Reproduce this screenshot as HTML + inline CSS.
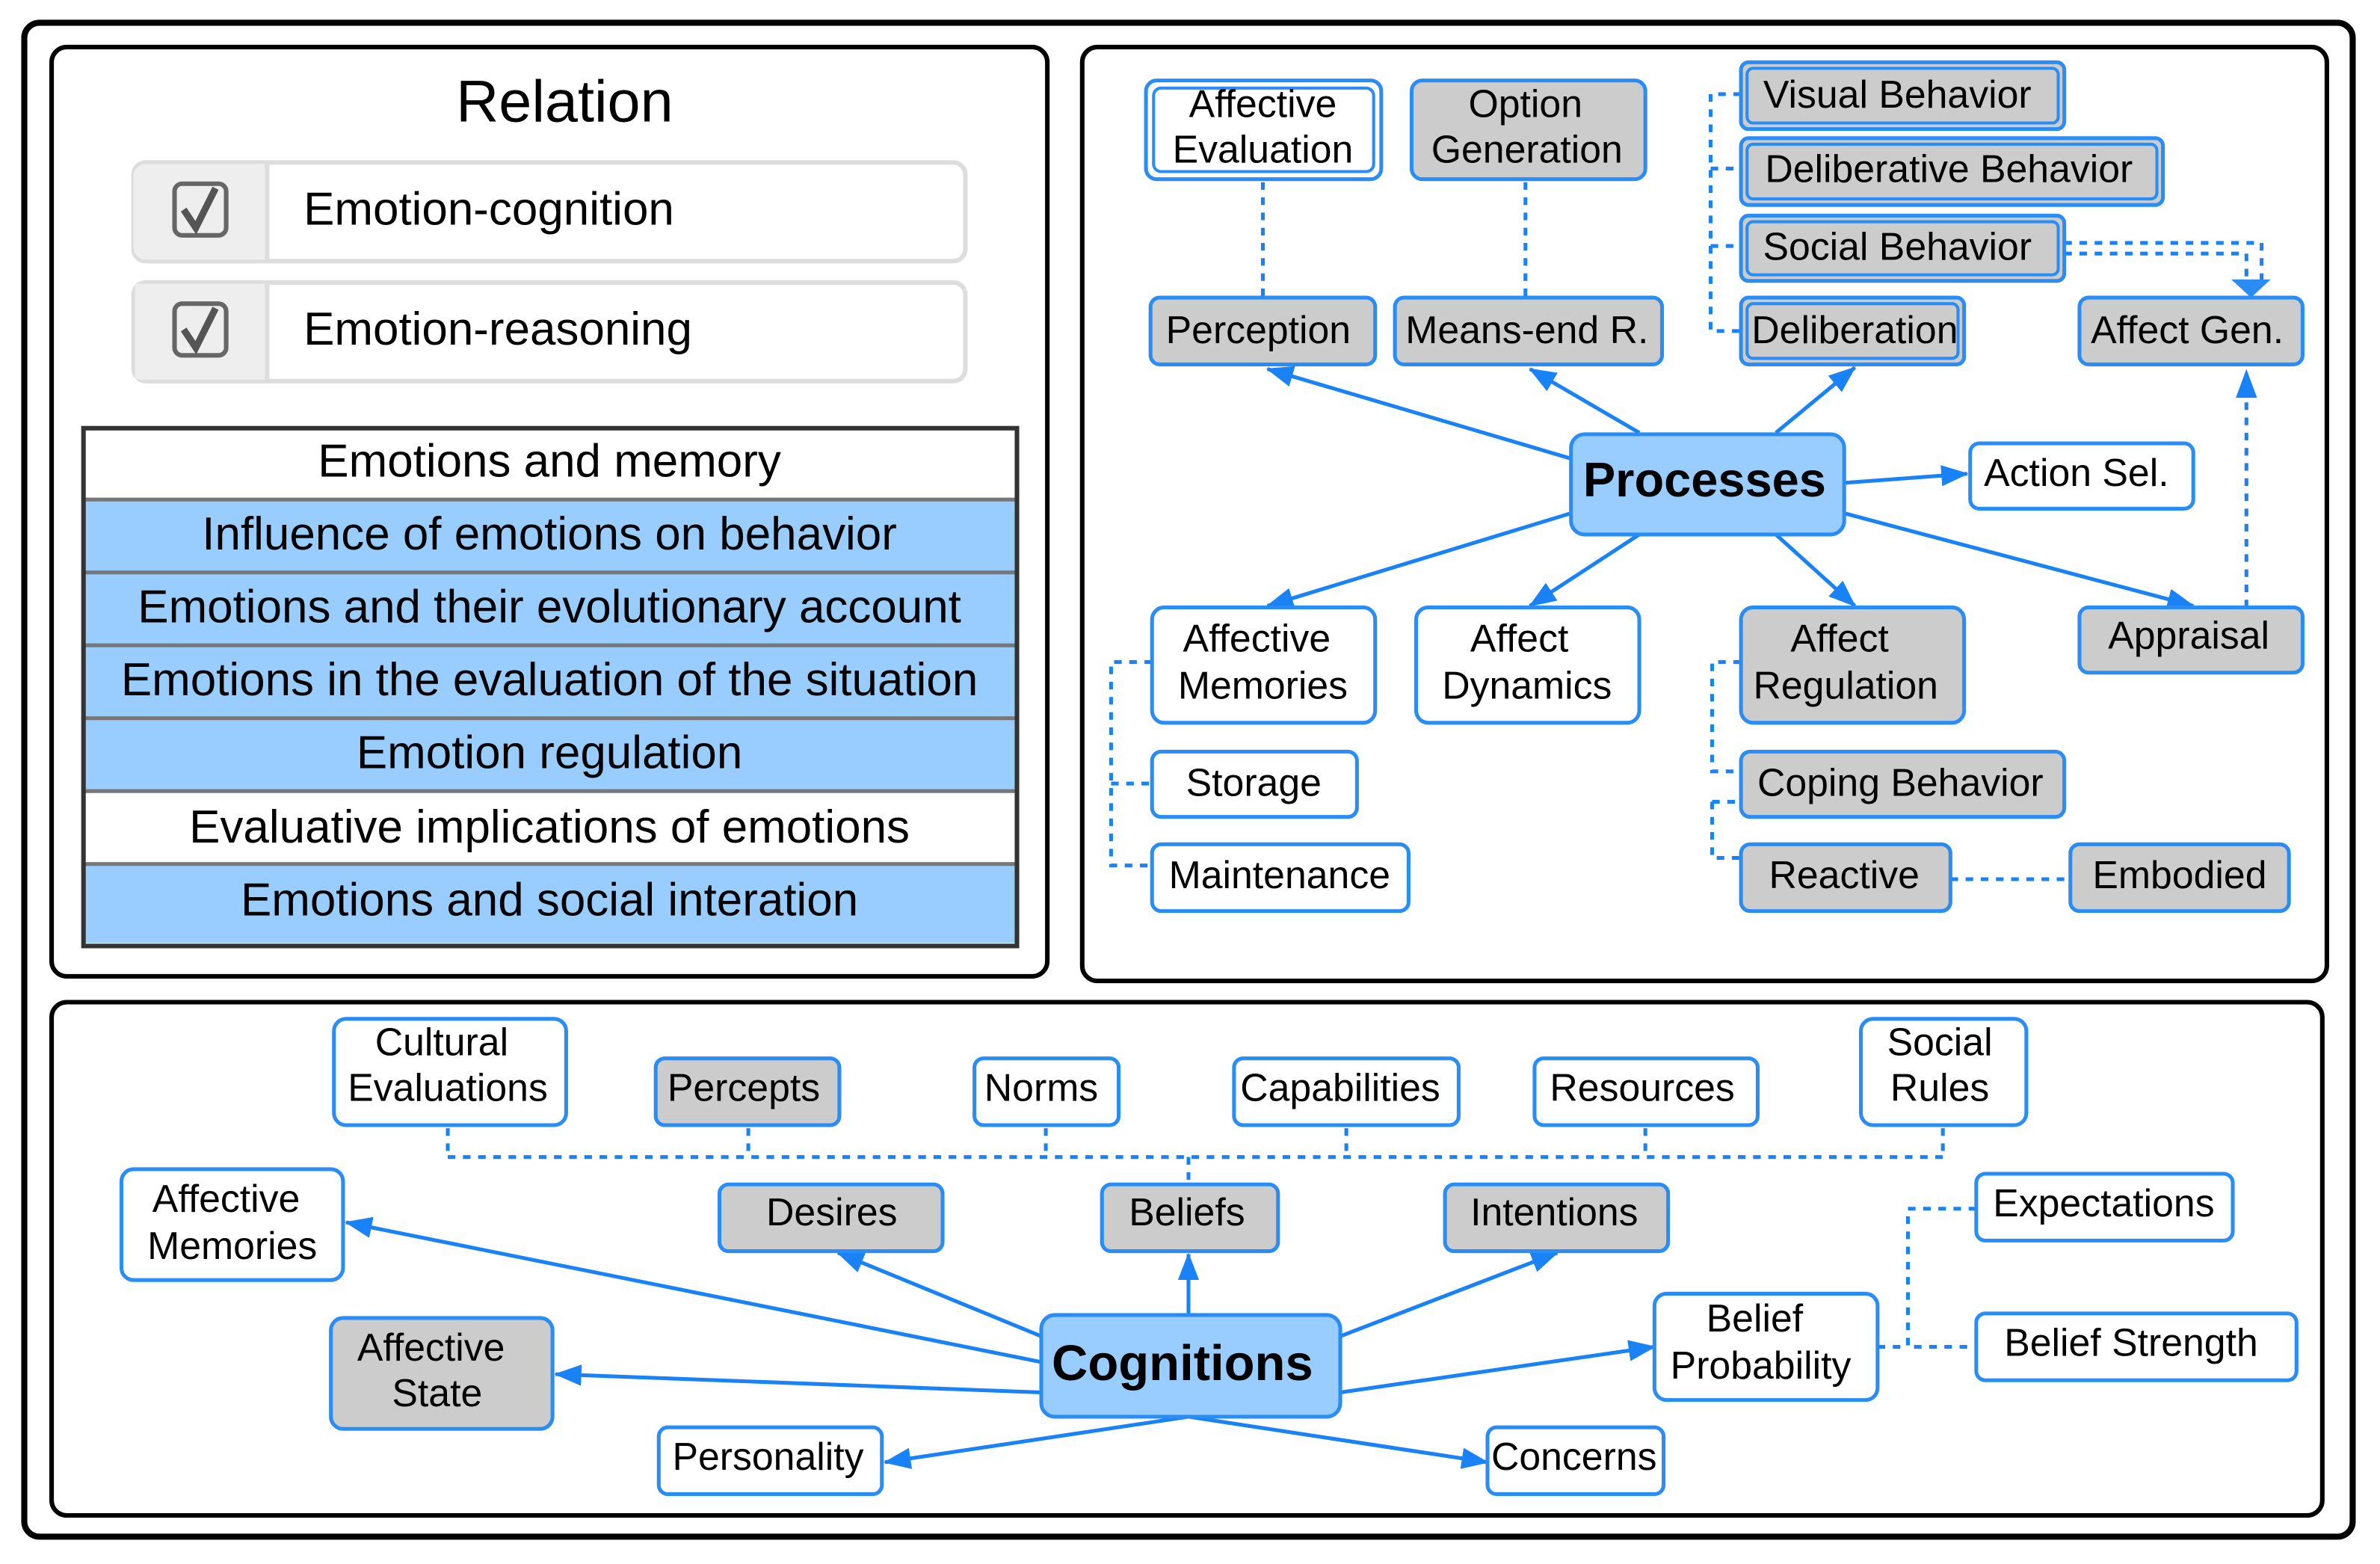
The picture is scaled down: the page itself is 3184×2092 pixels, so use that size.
<!DOCTYPE html>
<html><head><meta charset="utf-8"><style>
html,body{margin:0;padding:0;background:#fff}
svg{display:block}
text{font-family:"Liberation Sans",Arial,sans-serif;fill:#000}
.n{stroke:#2a8cf5;stroke-width:2.5}
.w{fill:#fff}.g{fill:#cccccc}.b{fill:#99ccff}
.a{stroke:#1a82f7;stroke-width:2.5;fill:none}
.d{stroke:#1a82f7;stroke-width:2.5;fill:none;stroke-dasharray:5,5}
.t{font-size:25.5px;text-anchor:middle}
</style></head><body>
<svg width="3184" height="2092" viewBox="0 0 1568 1030" preserveAspectRatio="none" xmlns="http://www.w3.org/2000/svg">
<defs>
<marker id="ar" markerWidth="18" markerHeight="14" refX="17" refY="7" orient="auto" markerUnits="userSpaceOnUse"><path d="M0,0 L18,7 L0,14 z" fill="#1a82f7"/></marker>
</defs>
<rect x="16" y="15" width="1534" height="997" rx="10" fill="#fff" stroke="#000" stroke-width="4"/>
<!-- Relation -->
<rect x="34" y="31" width="656" height="612" rx="10" fill="#fff" stroke="#000" stroke-width="3"/>
<text x="372" y="80" font-size="39" text-anchor="middle">Relation</text>
<rect x="88" y="107" width="548" height="65" rx="8" fill="#fff" stroke="#ddd" stroke-width="3"/>
<path d="M176,108 H96 a8,8 0 0 0 -8,8 V163 a8,8 0 0 0 8,8 H176 z" fill="#eeeeee"/>
<line x1="176" y1="108" x2="176" y2="171" stroke="#ddd" stroke-width="3"/>
<rect x="115" y="121" width="34" height="34" rx="5" fill="none" stroke="#666" stroke-width="3"/>
<path d="M121,138 L129,150 L142,124" fill="none" stroke="#555" stroke-width="4.5"/>
<text x="200" y="148" font-size="30.5">Emotion-cognition</text>
<rect x="88" y="186" width="548" height="65" rx="8" fill="#fff" stroke="#ddd" stroke-width="3"/>
<path d="M176,187 H89 V250 H176 z" fill="#eeeeee"/>
<line x1="176" y1="187" x2="176" y2="250" stroke="#ddd" stroke-width="3"/>
<rect x="115" y="200" width="34" height="34" rx="5" fill="none" stroke="#666" stroke-width="3"/>
<path d="M121,217 L129,229 L142,203" fill="none" stroke="#555" stroke-width="4.5"/>
<text x="200" y="227" font-size="30.5">Emotion-reasoning</text>
<g>
<rect x="56" y="283" width="613" height="46" fill="#fff"/>
<rect x="56" y="329" width="613" height="48" fill="#99ccff"/>
<rect x="56" y="377" width="613" height="48" fill="#99ccff"/>
<rect x="56" y="425" width="613" height="48" fill="#99ccff"/>
<rect x="56" y="473" width="613" height="48" fill="#99ccff"/>
<rect x="56" y="521" width="613" height="48" fill="#fff"/>
<rect x="56" y="569" width="613" height="52" fill="#99ccff"/>
<g stroke="#777" stroke-width="2.5">
<line x1="56" y1="329" x2="669" y2="329"/><line x1="56" y1="377" x2="669" y2="377"/>
<line x1="56" y1="425" x2="669" y2="425"/><line x1="56" y1="473" x2="669" y2="473"/>
<line x1="56" y1="521" x2="669" y2="521"/><line x1="56" y1="569" x2="669" y2="569"/>
</g>
<rect x="55" y="282" width="615" height="341" fill="none" stroke="#333" stroke-width="3"/>
<g font-size="30.5" text-anchor="middle">
<text x="362" y="314">Emotions and memory</text>
<text x="362" y="362">Influence of emotions on behavior</text>
<text x="362" y="410">Emotions and their evolutionary account</text>
<text x="362" y="458">Emotions in the evaluation of the situation</text>
<text x="362" y="506">Emotion regulation</text>
<text x="362" y="555">Evaluative implications of emotions</text>
<text x="362" y="603">Emotions and social interation</text>
</g>
</g>
<!-- Processes -->
<rect x="713" y="31" width="820" height="615" rx="10" fill="#fff" stroke="#000" stroke-width="3"/>
<g class="d">
<line x1="832" y1="120" x2="832" y2="196"/>
<line x1="1005" y1="120" x2="1005" y2="196"/>
<path d="M1147,62 H1127 V218 H1147 M1127,111 H1147 M1127,162 H1147"/>
<path d="M1360,160 H1490 V188 M1360,167 H1480 V188"/>
<path d="M759,436 H732 V570 H759 M732,516 H759"/>
<path d="M1147,436 H1128 V508 H1147 M1128,528 H1147 M1128,528 V565 H1147"/>
<line x1="1285" y1="579" x2="1364" y2="579"/>
</g>
<path d="M1470,184 L1496,184 L1483,196 z" fill="#2a8cf5"/>
<line class="d" x1="1480" y1="400" x2="1480" y2="250"/>
<path d="M1473,262 L1480,243 L1487,262 z" fill="#1a82f7"/>
<g class="a" marker-end="url(#ar)">
<line x1="1035" y1="302" x2="835" y2="243"/>
<line x1="1080" y1="285" x2="1008" y2="243"/>
<line x1="1170" y1="285" x2="1222" y2="242"/>
<line x1="1215" y1="318" x2="1296" y2="312"/>
<line x1="1035" y1="338" x2="835" y2="399"/>
<line x1="1080" y1="352" x2="1008" y2="399"/>
<line x1="1170" y1="352" x2="1222" y2="399"/>
<line x1="1215" y1="338" x2="1445" y2="399"/>
</g>
<g class="n">
<rect class="w" x="755" y="53" width="155" height="65" rx="7"/>
<rect x="760" y="58" width="145" height="55" rx="5" fill="none" stroke-width="2"/>
<rect class="g" x="930" y="53" width="154" height="65" rx="7"/>
<rect class="g" x="1147" y="41" width="213" height="44" rx="5"/>
<rect x="1151" y="45" width="205" height="36" rx="4" fill="none" stroke-width="2"/>
<rect class="g" x="1147" y="91" width="278" height="44" rx="5"/>
<rect x="1151" y="95" width="270" height="36" rx="4" fill="none" stroke-width="2"/>
<rect class="g" x="1147" y="142" width="213" height="43" rx="5"/>
<rect x="1151" y="146" width="205" height="35" rx="4" fill="none" stroke-width="2"/>
<rect class="g" x="758" y="196" width="148" height="44" rx="6"/>
<rect class="g" x="919" y="196" width="176" height="44" rx="6"/>
<rect class="g" x="1147" y="196" width="147" height="44" rx="5"/>
<rect x="1151" y="200" width="139" height="36" rx="4" fill="none" stroke-width="2"/>
<rect class="g" x="1370" y="196" width="147" height="44" rx="6"/>
<rect class="b" x="1035" y="286" width="180" height="66" rx="9"/>
<rect class="w" x="1298" y="292" width="147" height="43" rx="6"/>
<rect class="w" x="759" y="400" width="147" height="76" rx="8"/>
<rect class="w" x="933" y="400" width="147" height="76" rx="8"/>
<rect class="g" x="1147" y="400" width="147" height="76" rx="8"/>
<rect class="g" x="1370" y="400" width="147" height="43" rx="6"/>
<rect class="w" x="759" y="495" width="135" height="43" rx="6"/>
<rect class="w" x="759" y="556" width="169" height="44" rx="6"/>
<rect class="g" x="1147" y="495" width="213" height="43" rx="6"/>
<rect class="g" x="1147" y="556" width="138" height="44" rx="6"/>
<rect class="g" x="1364" y="556" width="144" height="44" rx="6"/>
</g>
<g class="t">
<text x="832" y="77">Affective</text><text x="832" y="107">Evaluation</text>
<text x="1005" y="77">Option</text><text x="1006" y="107">Generation</text>
<text x="1250" y="71">Visual Behavior</text>
<text x="1284" y="120">Deliberative Behavior</text>
<text x="1250" y="171">Social Behavior</text>
<text x="829" y="226">Perception</text>
<text x="1006" y="226">Means-end R.</text>
<text x="1222" y="226">Deliberation</text>
<text x="1441" y="226">Affect Gen.</text>
<text x="1123" y="327" font-size="32" font-weight="bold">Processes</text>
<text x="1368" y="320">Action Sel.</text>
<text x="828" y="429">Affective</text><text x="832" y="460">Memories</text>
<text x="1001" y="429">Affect</text><text x="1006" y="460">Dynamics</text>
<text x="1212" y="429">Affect</text><text x="1216" y="460">Regulation</text>
<text x="1442" y="427">Appraisal</text>
<text x="826" y="524">Storage</text>
<text x="843" y="585">Maintenance</text>
<text x="1252" y="524">Coping Behavior</text>
<text x="1215" y="585">Reactive</text>
<text x="1436" y="585">Embodied</text>
</g>
<!-- Cognitions -->
<rect x="34" y="660" width="1496" height="338" rx="10" fill="#fff" stroke="#000" stroke-width="3"/>
<g class="d">
<line x1="295" y1="762" x2="1280" y2="762"/>
<line x1="295" y1="743" x2="295" y2="762"/>
<line x1="493" y1="743" x2="493" y2="762"/>
<line x1="689" y1="743" x2="689" y2="762"/>
<line x1="887" y1="743" x2="887" y2="762"/>
<line x1="1084" y1="743" x2="1084" y2="762"/>
<line x1="1280" y1="743" x2="1280" y2="762"/>
<line x1="783" y1="762" x2="783" y2="780"/>
<path d="M1302,796 H1257 V887 H1302 M1237,887 H1257"/>
</g>
<g class="a" marker-end="url(#ar)">
<line x1="686" y1="897" x2="228" y2="805"/>
<line x1="686" y1="880" x2="552" y2="825"/>
<line x1="783" y1="866" x2="783" y2="826"/>
<line x1="883" y1="880" x2="1026" y2="825"/>
<line x1="686" y1="917" x2="366" y2="905"/>
<line x1="783" y1="933" x2="583" y2="963"/>
<line x1="783" y1="933" x2="980" y2="963"/>
<line x1="883" y1="917" x2="1090" y2="887"/>
</g>
<g class="n">
<rect class="w" x="220" y="671" width="153" height="70" rx="8"/>
<rect class="g" x="432" y="697" width="121" height="44" rx="6"/>
<rect class="w" x="642" y="697" width="95" height="44" rx="6"/>
<rect class="w" x="813" y="697" width="148" height="44" rx="6"/>
<rect class="w" x="1011" y="697" width="147" height="44" rx="6"/>
<rect class="w" x="1226" y="671" width="109" height="70" rx="8"/>
<rect class="w" x="80" y="770" width="146" height="73" rx="8"/>
<rect class="g" x="474" y="780" width="147" height="44" rx="6"/>
<rect class="g" x="726" y="780" width="116" height="44" rx="6"/>
<rect class="g" x="952" y="780" width="147" height="44" rx="6"/>
<rect class="w" x="1302" y="773" width="169" height="44" rx="6"/>
<rect class="g" x="218" y="868" width="146" height="73" rx="8"/>
<rect class="b" x="686" y="866" width="197" height="67" rx="9"/>
<rect class="w" x="1090" y="852" width="147" height="70" rx="8"/>
<rect class="w" x="1302" y="865" width="211" height="44" rx="6"/>
<rect class="w" x="434" y="940" width="147" height="44" rx="6"/>
<rect class="w" x="980" y="940" width="116" height="44" rx="6"/>
</g>
<g class="t">
<text x="291" y="695">Cultural</text><text x="295" y="725">Evaluations</text>
<text x="490" y="725">Percepts</text>
<text x="686" y="725">Norms</text>
<text x="883" y="725">Capabilities</text>
<text x="1082" y="725">Resources</text>
<text x="1278" y="695">Social</text><text x="1278" y="725">Rules</text>
<text x="149" y="798">Affective</text><text x="153" y="829">Memories</text>
<text x="548" y="807">Desires</text>
<text x="782" y="807">Beliefs</text>
<text x="1024" y="807">Intentions</text>
<text x="1386" y="801">Expectations</text>
<text x="284" y="896">Affective</text><text x="288" y="926">State</text>
<text x="779" y="909" font-size="33" font-weight="bold">Cognitions</text>
<text x="1156" y="877">Belief</text><text x="1160" y="908">Probability</text>
<text x="1404" y="893">Belief Strength</text>
<text x="506" y="968">Personality</text>
<text x="1037" y="968">Concerns</text>
</g>
</svg>
</body></html>
